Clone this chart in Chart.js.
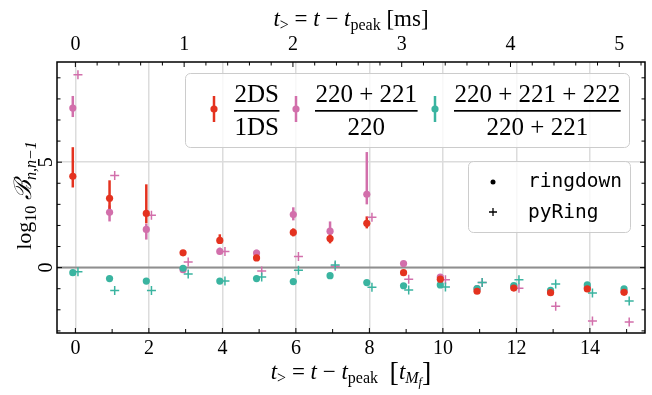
<!DOCTYPE html>
<html>
<head>
<meta charset="utf-8">
<script src="https://cdn.jsdelivr.net/npm/chart.js@4.4.0/dist/chart.umd.min.js"></script>
<style>
html, body { margin: 0; padding: 0; background: #fff; }
</style>
</head>
<body>
<canvas id="bayes" width="652" height="395"></canvas>
<script>
// time after peak in units of t_Mf
var steps = [0, 1, 2, 3, 4, 5, 6, 7, 8, 9, 10, 11, 12, 13, 14, 15];
var msPerStep = 1 / 2.96; // top axis conversion

// ringdown: 2DS / 1DS
var rdTwoMode   = [4.33, 3.29, 2.57, 0.70, 1.29, 0.46, 1.67, 1.38, 2.10, -0.24, -0.55, -1.12, -0.97, -1.19, -1.01, -1.17];
var rdTwoModeHi = [5.71, 4.14, 3.95, 0.80, 1.58, 0.55, 1.86, 1.60, 2.43, -0.18, -0.48, -1.05, -0.90, -1.12, -0.94, -1.10];
var rdTwoModeLo = [3.80, 2.76, 2.10, 0.60, 1.15, 0.38, 1.48, 1.15, 1.86, -0.30, -0.62, -1.20, -1.04, -1.26, -1.08, -1.24];
// ringdown: (220+221) / 220
var rdOvertone   = [7.57, 2.62, 1.81, -0.10, 0.77, 0.69, 2.52, 1.73, 3.48, 0.19, -0.45, -1.00, -0.92, -1.15, -0.95, -1.12];
var rdOvertoneHi = [8.14, 2.95, 2.08, -0.05, 0.95, 0.85, 2.86, 2.19, 5.48, 0.25, -0.40, -0.95, -0.87, -1.10, -0.90, -1.07];
var rdOvertoneLo = [7.14, 2.19, 1.33, -0.15, 0.63, 0.55, 2.24, 1.52, 3.00, 0.13, -0.50, -1.05, -0.97, -1.20, -1.00, -1.17];
// ringdown: (220+221+222) / (220+221)
var rdSecond   = [-0.24, -0.52, -0.64, -0.03, -0.64, -0.52, -0.66, -0.38, -0.71, -0.86, -0.82, -1.00, -0.85, -1.08, -0.82, -1.01];
var rdSecondHi = [-0.19, -0.47, -0.59, 0.02, -0.59, -0.47, -0.61, -0.33, -0.66, -0.81, -0.77, -0.95, -0.80, -1.03, -0.77, -0.96];
var rdSecondLo = [-0.29, -0.57, -0.69, -0.08, -0.69, -0.57, -0.71, -0.43, -0.76, -0.91, -0.87, -1.05, -0.90, -1.13, -0.87, -1.06];
// pyRing
var prOvertone = [9.14, 4.37, 2.48, 0.27, 0.77, -0.16, 0.53, 0.07, 2.39, -0.55, -0.57, -0.71, -0.98, -1.83, -2.53, -2.58];
var prSecond   = [-0.19, -1.08, -1.08, -0.30, -0.64, -0.45, -0.12, 0.12, -0.93, -1.06, -0.92, -0.71, -0.57, -0.78, -1.20, -1.58];

var xTickLabels = [0, 2, 4, 6, 8, 10, 12, 14];
var msTickLabels = [0, 1, 2, 3, 4, 5];
var yTickLabels = [0, 5];

var fracNum = ['2DS', '220 + 221', '220 + 221 + 222'];
var fracDen = ['1DS', '220', '220 + 221'];
var codeNames = ['ringdown', 'pyRing'];

var RED = '#e4321f';
var PINK = '#d26fab';
var TEAL = '#3ab4a0';
var SERIF = '"Liberation Serif", "DejaVu Serif", serif';

function pts(vals, shift) {
    return vals.map(function(v, i) { return { x: steps[i] + shift, y: v }; });
}

function fixedTicks(list) {
    return function(scale) { scale.ticks = list.map(function(v) { return { value: v }; }); };
}

function drawRuns(ctx, runs, cx, baseY) {
    var total = 0;
    runs.forEach(function(r) { ctx.font = r.f; r.w = ctx.measureText(r.t).width; total += r.w; });
    var x = cx - total / 2;
    ctx.textAlign = 'left';
    ctx.textBaseline = 'alphabetic';
    runs.forEach(function(r) { ctx.font = r.f; ctx.fillText(r.t, x, baseY + (r.dy || 0)); x += r.w; });
}

function boxPath(ctx, x, y, w, h, r) {
    ctx.beginPath();
    ctx.moveTo(x + r, y);
    ctx.arcTo(x + w, y, x + w, y + h, r);
    ctx.arcTo(x + w, y + h, x, y + h, r);
    ctx.arcTo(x, y + h, x, y, r);
    ctx.arcTo(x, y, x + w, y, r);
    ctx.closePath();
}

// zero line + error bars under the points
var errorBars = {
    id: 'errorBars',
    beforeDatasetsDraw: function(chart) {
        var ctx = chart.ctx, a = chart.chartArea;
        var xs = chart.scales.x, ys = chart.scales.y;
        ctx.save();
        var y0 = ys.getPixelForValue(0);
        ctx.strokeStyle = '#8f8f8f';
        ctx.lineWidth = 2;
        ctx.beginPath(); ctx.moveTo(a.left, y0); ctx.lineTo(a.right, y0); ctx.stroke();
        var sets = chart.data.datasets.slice().reverse();
        sets.forEach(function(ds) {
            if (!ds.errLo) return;
            ctx.strokeStyle = ds.borderColor;
            ctx.lineWidth = 2.5;
            ds.data.forEach(function(p, i) {
                var px = xs.getPixelForValue(p.x);
                ctx.beginPath();
                ctx.moveTo(px, ys.getPixelForValue(ds.errLo[i]));
                ctx.lineTo(px, ys.getPixelForValue(ds.errHi[i]));
                ctx.stroke();
            });
        });
        ctx.restore();
    }
};

// frame, inward ticks, rotated y labels, titles and the two legends
var decorations = {
    id: 'decorations',
    afterDraw: function(chart) {
        var ctx = chart.ctx, a = chart.chartArea;
        var xs = chart.scales.x, x2 = chart.scales.x2, ys = chart.scales.y;
        ctx.save();

        // ticks
        ctx.strokeStyle = '#000';
        ctx.lineWidth = 1;
        ctx.beginPath();
        for (var v = Math.ceil(xs.min); v <= xs.max; v++) {
            var px = xs.getPixelForValue(v);
            ctx.moveTo(px, a.bottom); ctx.lineTo(px, a.bottom - (v % 2 === 0 ? 5 : 4));
        }
        for (var m = 0; m <= 30; m++) {
            var ms = m * 0.2;
            if (ms > x2.max) break;
            var qx = x2.getPixelForValue(ms);
            ctx.moveTo(qx, a.top); ctx.lineTo(qx, a.top + (m % 5 === 0 ? 5 : 3.5));
        }
        for (var w = Math.ceil(ys.min); w <= ys.max; w++) {
            var py = ys.getPixelForValue(w);
            var len = w % 5 === 0 ? 5 : 3.5;
            ctx.moveTo(a.left, py); ctx.lineTo(a.left + len, py);
            ctx.moveTo(a.right, py); ctx.lineTo(a.right - len, py);
        }
        ctx.stroke();
        ctx.lineWidth = 1.5;
        ctx.strokeRect(a.left, a.top, a.right - a.left, a.bottom - a.top);

        ctx.fillStyle = '#000';
        // y tick labels, rotated like the reference
        ys.ticks.forEach(function(t) {
            ctx.save();
            ctx.translate(47, ys.getPixelForValue(t.value));
            ctx.rotate(-Math.PI / 2);
            ctx.font = '20px ' + SERIF;
            ctx.textAlign = 'center';
            ctx.textBaseline = 'middle';
            ctx.fillText(String(t.value), 0, 0);
            ctx.restore();
        });

        var rm = '23px ' + SERIF, it = 'italic 23px ' + SERIF;
        var sub = '16px ' + SERIF, subIt = 'italic 16px ' + SERIF;
        var cx = (a.left + a.right) / 2;

        // top title
        drawRuns(ctx, [
            { t: 't', f: it }, { t: '>', f: sub, dy: 4 }, { t: ' = ', f: rm }, { t: 't', f: it },
            { t: ' \u2212 ', f: rm }, { t: 't', f: it }, { t: 'peak', f: sub, dy: 4 }, { t: ' [ms]', f: rm }
        ], cx, 26);

        // bottom title
        drawRuns(ctx, [
            { t: 't', f: it }, { t: '>', f: sub, dy: 4 }, { t: ' = ', f: rm }, { t: 't', f: it },
            { t: ' \u2212 ', f: rm }, { t: 't', f: it }, { t: 'peak', f: sub, dy: 4 }, { t: '  ', f: rm },
            { t: '[', f: '28px ' + SERIF, dy: 2 }, { t: 't', f: it }, { t: 'M', f: subIt, dy: 4 },
            { t: 'f', f: 'italic 12px ' + SERIF, dy: 7 }, { t: ']', f: '28px ' + SERIF, dy: 2 }
        ], cx, 379);

        // y title
        ctx.save();
        ctx.translate(31, (a.top + a.bottom) / 2 - 2);
        ctx.rotate(-Math.PI / 2);
        drawRuns(ctx, [
            { t: 'log', f: '22px ' + SERIF }, { t: '10', f: sub, dy: 5 }, { t: ' ', f: rm },
            { t: '\u212C', f: 'italic 24px ' + SERIF }, { t: 'n,n\u22121', f: subIt, dy: 5 }
        ], 0, 0);
        ctx.restore();

        // legend 1: ratios
        boxPath(ctx, 185.5, 73.5, 444, 74, 5);
        ctx.fillStyle = 'rgba(255,255,255,0.8)';
        ctx.fill();
        ctx.strokeStyle = '#cccccc';
        ctx.lineWidth = 1;
        ctx.stroke();
        var cols = [RED, PINK, TEAL];
        var markX = [214, 296, 435];
        var fracLeft = [234, 315, 454];
        var ff = '25px ' + SERIF;
        for (var k = 0; k < 3; k++) {
            ctx.strokeStyle = cols[k];
            ctx.lineWidth = 2.5;
            ctx.beginPath(); ctx.moveTo(markX[k], 96); ctx.lineTo(markX[k], 122); ctx.stroke();
            ctx.fillStyle = cols[k];
            ctx.beginPath(); ctx.arc(markX[k], 109, 3.6, 0, Math.PI * 2); ctx.fill();
            ctx.font = ff;
            var bw = Math.max(ctx.measureText(fracNum[k]).width, ctx.measureText(fracDen[k]).width) + 1;
            var fc = fracLeft[k] + bw / 2;
            ctx.fillStyle = '#000';
            ctx.textAlign = 'center';
            ctx.textBaseline = 'alphabetic';
            ctx.fillText(fracNum[k], fc, 101.5);
            ctx.fillText(fracDen[k], fc, 134.5);
            ctx.fillRect(fracLeft[k], 110, bw, 1.7);
        }

        // legend 2: codes
        boxPath(ctx, 468.5, 161.5, 162, 71, 5);
        ctx.fillStyle = 'rgba(255,255,255,0.8)';
        ctx.fill();
        ctx.strokeStyle = '#cccccc';
        ctx.lineWidth = 1;
        ctx.stroke();
        ctx.fillStyle = '#000';
        ctx.beginPath(); ctx.arc(493, 182, 2.5, 0, Math.PI * 2); ctx.fill();
        ctx.strokeStyle = '#000';
        ctx.lineWidth = 1.3;
        ctx.beginPath(); ctx.moveTo(489, 212); ctx.lineTo(497, 212); ctx.moveTo(493, 208); ctx.lineTo(493, 216); ctx.stroke();
        ctx.font = '19.5px "DejaVu Sans Mono", "Liberation Mono", monospace';
        ctx.textAlign = 'left';
        ctx.fillText(codeNames[0], 528, 187);
        ctx.fillText(codeNames[1], 528, 218);

        ctx.restore();
    }
};

var dotShift = -0.07, plusShift = 0.07;

var chart = new Chart(document.getElementById('bayes'), {
    type: 'scatter',
    data: {
        datasets: [
            { label: '2DS/1DS ringdown', data: pts(rdTwoMode, dotShift), errLo: rdTwoModeLo, errHi: rdTwoModeHi,
              backgroundColor: RED, borderColor: RED, borderWidth: 0, pointRadius: 3.6 },
            { label: '(220+221+222)/(220+221) ringdown', data: pts(rdSecond, dotShift), errLo: rdSecondLo, errHi: rdSecondHi,
              backgroundColor: TEAL, borderColor: TEAL, borderWidth: 0, pointRadius: 3.6 },
            { label: '(220+221)/220 ringdown', data: pts(rdOvertone, dotShift), errLo: rdOvertoneLo, errHi: rdOvertoneHi,
              backgroundColor: PINK, borderColor: PINK, borderWidth: 0, pointRadius: 3.6 },
            { label: '(220+221+222)/(220+221) pyRing', data: pts(prSecond, plusShift),
              pointStyle: 'cross', backgroundColor: TEAL, borderColor: TEAL, borderWidth: 1.5, pointRadius: 4.5 },
            { label: '(220+221)/220 pyRing', data: pts(prOvertone, plusShift),
              pointStyle: 'cross', backgroundColor: PINK, borderColor: PINK, borderWidth: 1.5, pointRadius: 4.5 }
        ]
    },
    options: {
        responsive: false,
        animation: false,
        devicePixelRatio: 1,
        layout: { padding: { left: 0, right: 7, top: 0, bottom: 0 } },
        plugins: {
            legend: { display: false },
            tooltip: { enabled: false }
        },
        scales: {
            x: {
                type: 'linear', position: 'bottom', min: -0.5, max: 15.5,
                afterBuildTicks: fixedTicks(xTickLabels),
                ticks: { padding: 4, maxRotation: 0, color: '#000', font: { family: SERIF, size: 20 } },
                grid: { color: '#dcdcdc', lineWidth: 1.5, drawTicks: false },
                border: { display: false },
                afterFit: function(s) { s.height = 62; }
            },
            x2: {
                type: 'linear', position: 'top', min: -0.5 * msPerStep, max: 15.5 * msPerStep,
                afterBuildTicks: fixedTicks(msTickLabels),
                ticks: { padding: 5, maxRotation: 0, color: '#000', font: { family: SERIF, size: 20 } },
                grid: { display: false, drawTicks: false },
                border: { display: false },
                afterFit: function(s) { s.height = 62; }
            },
            y: {
                type: 'linear', min: -3.1, max: 9.75,
                afterBuildTicks: fixedTicks(yTickLabels),
                ticks: { display: false },
                grid: { color: '#dcdcdc', lineWidth: 1.5, drawTicks: false },
                border: { display: false },
                afterFit: function(s) { s.width = 57; }
            }
        }
    },
    plugins: [errorBars, decorations]
});
</script>
</body>
</html>
